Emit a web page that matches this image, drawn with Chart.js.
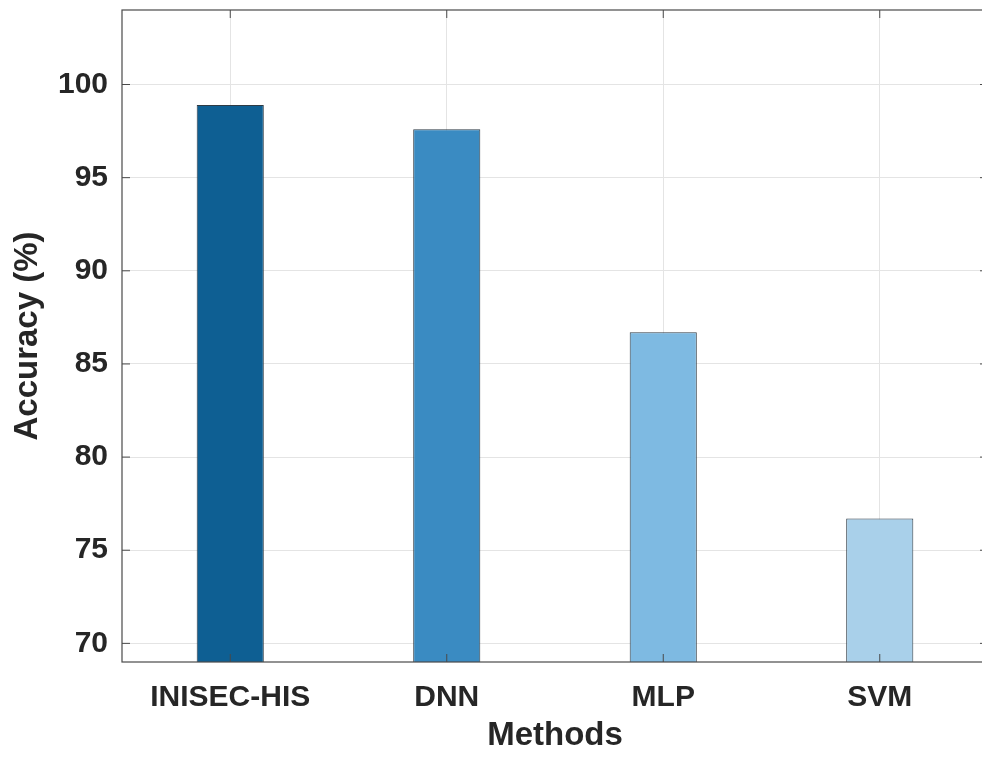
<!DOCTYPE html>
<html>
<head>
<meta charset="utf-8">
<script src="https://cdn.jsdelivr.net/npm/chart.js@4.4.0/dist/chart.umd.min.js"></script>
<style>
  html, body { margin: 0; padding: 0; background: #fff; overflow: hidden; }
  #wrap { width: 994px; height: 758px; }
</style>
</head>
<body>
<div id="wrap"><canvas id="accChart" width="994" height="758"></canvas></div>
<script>
// chart data
const methods = ['INISEC-HIS', 'DNN', 'MLP', 'SVM'];
const accuracy = [98.9, 97.6, 86.7, 76.7];
const barColors = ['#0e5f93', '#3a8bc2', '#7ebae2', '#a9d0ea'];
const yTicks = [70, 75, 80, 85, 90, 95, 100];

const fontFam = '"Liberation Sans", Arial, sans-serif';

// box around plot area plus the small inward tick marks
const framePlugin = {
    id: 'frame',
    afterDraw(chart) {
        const { ctx, chartArea: a, scales } = chart;
        ctx.save();
        ctx.strokeStyle = '#4a4a4a';
        ctx.lineWidth = 1.2;
        ctx.strokeRect(a.left, a.top, a.right - a.left, a.bottom - a.top);
        ctx.lineWidth = 1;
        ctx.beginPath();
        yTicks.forEach(v => {
            const y = scales.y.getPixelForValue(v);
            ctx.moveTo(a.left, y); ctx.lineTo(a.left + 8, y);
            ctx.moveTo(a.right, y); ctx.lineTo(a.right - 8, y);
        });
        methods.forEach((m, i) => {
            const x = scales.x.getPixelForValue(i);
            ctx.moveTo(x, a.bottom); ctx.lineTo(x, a.bottom - 8);
            ctx.moveTo(x, a.top); ctx.lineTo(x, a.top + 8);
        });
        ctx.stroke();
        ctx.restore();
    }
};

const ctx = document.getElementById('accChart').getContext('2d');
new Chart(ctx, {
    type: 'bar',
    data: {
        labels: methods,
        datasets: [{
            label: 'Accuracy',
            data: accuracy,
            backgroundColor: barColors,
            borderColor: '#2f3b45',
            borderWidth: 1,
            barPercentage: 0.31,
            categoryPercentage: 1
        }]
    },
    options: {
        responsive: false,
        animation: false,
        layout: { padding: { top: 10, right: 6, left: 0, bottom: 0 } },
        plugins: { legend: { display: false }, tooltip: { enabled: false } },
        scales: {
            x: {
                grid: { offset: false, color: '#e4e4e4', drawTicks: false },
                border: { display: false },
                ticks: {
                    color: '#262626',
                    padding: 18,
                    font: { family: fontFam, size: 30, weight: 'bold' }
                },
                title: {
                    display: true,
                    text: 'Methods',
                    color: '#262626',
                    padding: { top: 0, bottom: 2 },
                    font: { family: fontFam, size: 33, weight: 'bold' }
                },
                afterFit(scale) {
                    scale.height = 96;
                    scale.paddingLeft = 0;
                    scale.paddingRight = 0;
                }
            },
            y: {
                min: 69,
                max: 104,
                afterBuildTicks(scale) { scale.ticks = yTicks.map(v => ({ value: v })); },
                grid: { color: '#e4e4e4', drawTicks: false },
                border: { display: false },
                ticks: {
                    color: '#262626',
                    padding: 14,
                    font: { family: fontFam, size: 30, weight: 'bold' }
                },
                title: {
                    display: true,
                    text: 'Accuracy (%)',
                    color: '#262626',
                    padding: { top: 8, bottom: 0 },
                    font: { family: fontFam, size: 33, weight: 'bold' }
                },
                afterFit(scale) {
                    scale.width = 122;
                    scale.paddingTop = 0;
                    scale.paddingBottom = 0;
                }
            }
        }
    },
    plugins: [framePlugin]
});
</script>
</body>
</html>
